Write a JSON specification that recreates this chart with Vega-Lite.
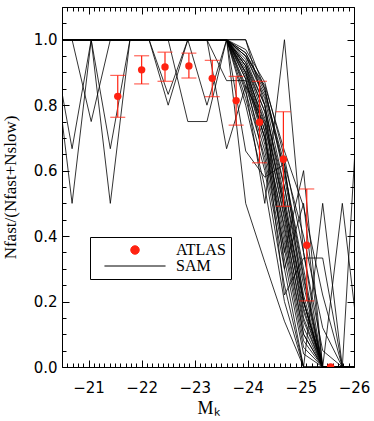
{
"$schema": "https://vega.github.io/schema/vega-lite/v6.json",
"width": 292, "height": 360,
"autosize": "none",
"padding": {"left": 62, "top": 7, "right": 20, "bottom": 54},
"background": "white",
"config": {"view": {"stroke": "black", "strokeWidth": 1}, "axis": {"grid": false, "domain": false, "tickColor": "black", "tickWidth": 1, "labelColor": "black", "titleColor": "black"}},
"datasets": {
"atlas": [
{"mk": -21.55, "f": 0.827, "lo": 0.763, "hi": 0.891},
{"mk": -22.00, "f": 0.908, "lo": 0.865, "hi": 0.951},
{"mk": -22.44, "f": 0.917, "lo": 0.873, "hi": 0.962},
{"mk": -22.89, "f": 0.920, "lo": 0.883, "hi": 0.959},
{"mk": -23.33, "f": 0.882, "lo": 0.826, "hi": 0.937},
{"mk": -23.78, "f": 0.814, "lo": 0.739, "hi": 0.888},
{"mk": -24.22, "f": 0.748, "lo": 0.624, "hi": 0.873},
{"mk": -24.67, "f": 0.635, "lo": 0.491, "hi": 0.780},
{"mk": -25.11, "f": 0.372, "lo": 0.202, "hi": 0.544},
{"mk": -25.56, "f": 0.0, "lo": null, "hi": null}
],
"sam": [
{"l":1,"x":-20.32,"f":1},{"l":1,"x":-20.69,"f":0.5},{"l":1,"x":-21.05,"f":1},{"l":1,"x":-21.41,"f":0.5},{"l":1,"x":-21.78,"f":1},{"l":1,"x":-23.60,"f":1},{"l":1,"x":-23.96,"f":0.92},{"l":1,"x":-24.32,"f":0.78},{"l":1,"x":-24.69,"f":0.48},{"l":1,"x":-25.05,"f":0.15},{"l":1,"x":-25.41,"f":0},{"l":1,"x":-26.14,"f":0},
{"l":2,"x":-20.32,"f":1},{"l":2,"x":-20.69,"f":0.667},{"l":2,"x":-21.05,"f":1},{"l":2,"x":-21.41,"f":0.667},{"l":2,"x":-21.78,"f":1},{"l":2,"x":-23.60,"f":1},{"l":2,"x":-23.96,"f":0.9},{"l":2,"x":-24.32,"f":0.72},{"l":2,"x":-24.69,"f":0.42},{"l":2,"x":-25.05,"f":0.1},{"l":2,"x":-25.41,"f":0},{"l":2,"x":-26.14,"f":0},
{"l":3,"x":-20.32,"f":1},{"l":3,"x":-20.69,"f":1},{"l":3,"x":-21.05,"f":0.75},{"l":3,"x":-21.41,"f":1},{"l":3,"x":-23.60,"f":1},{"l":3,"x":-23.96,"f":0.95},{"l":3,"x":-24.32,"f":0.82},{"l":3,"x":-24.69,"f":0.55},{"l":3,"x":-25.05,"f":0.22},{"l":3,"x":-25.41,"f":0},{"l":3,"x":-26.14,"f":0},
{"l":4,"x":-20.32,"f":1},{"l":4,"x":-22.14,"f":1},{"l":4,"x":-22.50,"f":0.833},{"l":4,"x":-22.87,"f":1},{"l":4,"x":-23.60,"f":1},{"l":4,"x":-23.96,"f":0.93},{"l":4,"x":-24.32,"f":0.8},{"l":4,"x":-24.69,"f":0.52},{"l":4,"x":-25.05,"f":0.2},{"l":4,"x":-25.41,"f":0},{"l":4,"x":-26.14,"f":0},
{"l":5,"x":-20.32,"f":1},{"l":5,"x":-22.14,"f":1},{"l":5,"x":-22.50,"f":0.8},{"l":5,"x":-22.87,"f":1},{"l":5,"x":-23.23,"f":0.8},{"l":5,"x":-23.60,"f":1},{"l":5,"x":-23.96,"f":0.88},{"l":5,"x":-24.32,"f":0.68},{"l":5,"x":-24.69,"f":0.38},{"l":5,"x":-25.05,"f":0.08},{"l":5,"x":-25.41,"f":0},{"l":5,"x":-26.14,"f":0},
{"l":6,"x":-20.32,"f":1},{"l":6,"x":-22.50,"f":1},{"l":6,"x":-22.87,"f":0.75},{"l":6,"x":-23.23,"f":0.75},{"l":6,"x":-23.60,"f":1},{"l":6,"x":-23.96,"f":0.96},{"l":6,"x":-24.32,"f":0.85},{"l":6,"x":-24.69,"f":0.6},{"l":6,"x":-25.05,"f":0.28},{"l":6,"x":-25.41,"f":0},{"l":6,"x":-26.14,"f":0},
{"l":7,"x":-20.32,"f":1},{"l":7,"x":-23.23,"f":1},{"l":7,"x":-23.60,"f":0.667},{"l":7,"x":-23.96,"f":0.86},{"l":7,"x":-24.32,"f":0.74},{"l":7,"x":-24.69,"f":0.45},{"l":7,"x":-25.05,"f":0.12},{"l":7,"x":-25.41,"f":0},{"l":7,"x":-26.14,"f":0},
{"l":8,"x":-20.32,"f":1},{"l":8,"x":-23.23,"f":1},{"l":8,"x":-23.60,"f":0.875},{"l":8,"x":-23.96,"f":0.875},{"l":8,"x":-24.32,"f":0.7},{"l":8,"x":-24.69,"f":0.4},{"l":8,"x":-25.05,"f":0.1},{"l":8,"x":-25.41,"f":0},{"l":8,"x":-26.14,"f":0},
{"l":9,"x":-20.32,"f":1},{"l":9,"x":-23.60,"f":1},{"l":9,"x":-23.96,"f":0.5},{"l":9,"x":-24.32,"f":0.32},{"l":9,"x":-24.69,"f":0.14},{"l":9,"x":-25.05,"f":0},{"l":9,"x":-26.14,"f":0},
{"l":10,"x":-20.32,"f":1},{"l":10,"x":-23.60,"f":1},{"l":10,"x":-23.96,"f":0.85},{"l":10,"x":-24.32,"f":0.5},{"l":10,"x":-24.69,"f":1},{"l":10,"x":-25.05,"f":0.35},{"l":10,"x":-25.41,"f":0},{"l":10,"x":-26.14,"f":0},
{"l":11,"x":-20.32,"f":1},{"l":11,"x":-23.60,"f":1},{"l":11,"x":-23.96,"f":0.92},{"l":11,"x":-24.32,"f":0.72},{"l":11,"x":-24.69,"f":0.22},{"l":11,"x":-25.05,"f":0.333},{"l":11,"x":-25.41,"f":0.333},{"l":11,"x":-25.78,"f":0},{"l":11,"x":-26.14,"f":0},
{"l":12,"x":-20.32,"f":1},{"l":12,"x":-23.60,"f":1},{"l":12,"x":-23.96,"f":0.9},{"l":12,"x":-24.32,"f":0.7},{"l":12,"x":-24.69,"f":0.35},{"l":12,"x":-25.05,"f":0.6},{"l":12,"x":-25.41,"f":0},{"l":12,"x":-25.78,"f":0.5},{"l":12,"x":-26.14,"f":0},
{"l":13,"x":-20.32,"f":1},{"l":13,"x":-23.60,"f":1},{"l":13,"x":-23.96,"f":0.94},{"l":13,"x":-24.32,"f":0.8},{"l":13,"x":-24.69,"f":0.3},{"l":13,"x":-25.05,"f":0},{"l":13,"x":-25.41,"f":0.5},{"l":13,"x":-25.78,"f":0},{"l":13,"x":-26.14,"f":1},
{"l":14,"x":-20.32,"f":1},{"l":14,"x":-23.60,"f":1},{"l":14,"x":-23.96,"f":0.88},{"l":14,"x":-24.32,"f":0.62},{"l":14,"x":-24.69,"f":0.3},{"l":14,"x":-25.05,"f":0.5},{"l":14,"x":-25.41,"f":0},{"l":14,"x":-26.14,"f":0},
{"l":15,"x":-20.32,"f":1},{"l":15,"x":-23.60,"f":1},{"l":15,"x":-23.96,"f":0.82},{"l":15,"x":-24.32,"f":0.6},{"l":15,"x":-24.69,"f":0.25},{"l":15,"x":-25.05,"f":0},{"l":15,"x":-26.14,"f":0},
{"l":16,"x":-20.32,"f":1},{"l":16,"x":-23.60,"f":1},{"l":16,"x":-23.96,"f":0.8},{"l":16,"x":-24.32,"f":0.55},{"l":16,"x":-24.69,"f":0.2},{"l":16,"x":-25.05,"f":0},{"l":16,"x":-26.14,"f":0},
{"l":17,"x":-20.32,"f":1},{"l":17,"x":-23.60,"f":1},{"l":17,"x":-23.96,"f":0.9},{"l":17,"x":-24.32,"f":0.75},{"l":17,"x":-24.69,"f":0.5},{"l":17,"x":-25.05,"f":0.2},{"l":17,"x":-25.41,"f":0},{"l":17,"x":-26.14,"f":0},
{"l":18,"x":-20.32,"f":1},{"l":18,"x":-23.60,"f":1},{"l":18,"x":-23.96,"f":0.93},{"l":18,"x":-24.32,"f":0.78},{"l":18,"x":-24.69,"f":0.55},{"l":18,"x":-25.05,"f":0.25},{"l":18,"x":-25.41,"f":0},{"l":18,"x":-26.14,"f":0},
{"l":19,"x":-20.32,"f":1},{"l":19,"x":-23.60,"f":1},{"l":19,"x":-23.96,"f":0.95},{"l":19,"x":-24.32,"f":0.83},{"l":19,"x":-24.69,"f":0.6},{"l":19,"x":-25.05,"f":0.3},{"l":19,"x":-25.41,"f":0},{"l":19,"x":-26.14,"f":0},
{"l":20,"x":-20.32,"f":1},{"l":20,"x":-23.60,"f":1},{"l":20,"x":-23.96,"f":0.97},{"l":20,"x":-24.32,"f":0.87},{"l":20,"x":-24.69,"f":0.64},{"l":20,"x":-25.05,"f":0.35},{"l":20,"x":-25.41,"f":0.05},{"l":20,"x":-25.78,"f":0},{"l":20,"x":-26.14,"f":0},
{"l":21,"x":-20.32,"f":1},{"l":21,"x":-23.96,"f":1},{"l":21,"x":-24.32,"f":0.8},{"l":21,"x":-24.69,"f":0.5},{"l":21,"x":-25.05,"f":0.2},{"l":21,"x":-25.41,"f":0},{"l":21,"x":-26.14,"f":0},
{"l":22,"x":-20.32,"f":1},{"l":22,"x":-23.96,"f":1},{"l":22,"x":-24.32,"f":0.85},{"l":22,"x":-24.69,"f":0.58},{"l":22,"x":-25.05,"f":0.27},{"l":22,"x":-25.41,"f":0},{"l":22,"x":-26.14,"f":0},
{"l":23,"x":-20.32,"f":1},{"l":23,"x":-23.60,"f":1},{"l":23,"x":-23.96,"f":0.86},{"l":23,"x":-24.32,"f":0.66},{"l":23,"x":-24.69,"f":0.36},{"l":23,"x":-25.05,"f":0.06},{"l":23,"x":-25.41,"f":0},{"l":23,"x":-26.14,"f":0},
{"l":24,"x":-20.32,"f":1},{"l":24,"x":-23.60,"f":1},{"l":24,"x":-23.96,"f":0.91},{"l":24,"x":-24.32,"f":0.74},{"l":24,"x":-24.69,"f":0.46},{"l":24,"x":-25.05,"f":0.17},{"l":24,"x":-25.41,"f":0},{"l":24,"x":-26.14,"f":0},
{"l":25,"x":-20.32,"f":1},{"l":25,"x":-23.60,"f":1},{"l":25,"x":-23.96,"f":0.89},{"l":25,"x":-24.32,"f":0.7},{"l":25,"x":-24.69,"f":0.43},{"l":25,"x":-25.05,"f":0.14},{"l":25,"x":-25.41,"f":0},{"l":25,"x":-26.14,"f":0},
{"l":26,"x":-20.32,"f":1},{"l":26,"x":-23.60,"f":1},{"l":26,"x":-23.96,"f":0.96},{"l":26,"x":-24.32,"f":0.84},{"l":26,"x":-24.69,"f":0.62},{"l":26,"x":-25.05,"f":0.4},{"l":26,"x":-25.41,"f":0.12},{"l":26,"x":-25.78,"f":0},{"l":26,"x":-26.14,"f":0},
{"l":27,"x":-20.32,"f":1},{"l":27,"x":-23.60,"f":1},{"l":27,"x":-23.96,"f":0.84},{"l":27,"x":-24.32,"f":0.64},{"l":27,"x":-24.69,"f":0.33},{"l":27,"x":-25.05,"f":0.04},{"l":27,"x":-25.41,"f":0},{"l":27,"x":-26.14,"f":0},
{"l":28,"x":-20.32,"f":1},{"l":28,"x":-23.60,"f":1},{"l":28,"x":-23.96,"f":0.95},{"l":28,"x":-24.32,"f":0.86},{"l":28,"x":-24.69,"f":0.66},{"l":28,"x":-25.05,"f":0.49},{"l":28,"x":-25.41,"f":0.22},{"l":28,"x":-25.78,"f":0},{"l":28,"x":-26.14,"f":0},
{"l":29,"x":-20.32,"f":1},{"l":29,"x":-23.60,"f":1},{"l":29,"x":-23.96,"f":0.66},{"l":29,"x":-24.32,"f":0.58},{"l":29,"x":-24.69,"f":0.62},{"l":29,"x":-25.05,"f":0.2},{"l":29,"x":-25.41,"f":0},{"l":29,"x":-26.14,"f":0},
{"l":30,"x":-20.32,"f":1},{"l":30,"x":-23.60,"f":1},{"l":30,"x":-23.96,"f":0.92},{"l":30,"x":-24.32,"f":0.76},{"l":30,"x":-24.69,"f":0.48},{"l":30,"x":-25.05,"f":0.18},{"l":30,"x":-25.41,"f":0},{"l":30,"x":-26.14,"f":0}
]
},
"resolve": {"axis": {"x": "independent", "y": "independent"}},
"layer": [
{
"data": {"name": "sam"},
"mark": {"type": "line", "strokeWidth": 0.8, "clip": true},
"encoding": {
"x": {"field": "x", "type": "quantitative", "scale": {"domain": [-26, -20.5], "reverse": true, "nice": false, "zero": false},
 "axis": {"orient": "bottom", "values": [-21, -22, -23, -24, -25, -26], "labels": false, "ticks": true, "tickSize": -7, "title": null}},
"y": {"field": "f", "type": "quantitative", "scale": {"domain": [0, 1.1], "nice": false, "zero": false},
 "axis": {"orient": "left", "values": [0, 0.2, 0.4, 0.6, 0.8, 1.0], "labels": false, "ticks": true, "tickSize": -7, "title": null}},
"detail": {"field": "l", "type": "nominal"},
"color": {"datum": "SAM", "type": "nominal",
 "scale": {"domain": ["ATLAS", "SAM"], "range": ["#ff2211", "black"]},
 "legend": {"title": null, "orient": "none", "legendX": 28, "legendY": 230, "strokeColor": "black", "fillColor": "white", "padding": 5,
  "labelFont": "Liberation Serif", "labelFontSize": 16, "labelColor": "black", "symbolSize": 72, "symbolOffset": 32, "labelOffset": 33, "rowPadding": 0, "symbolStrokeWidth": 1,
  "encode": {"symbols": {"update": {
   "shape": {"signal": "datum.value === 'SAM' ? 'M-7.2,0H7.2' : 'circle'"},
   "fill": {"signal": "datum.value === 'ATLAS' ? '#ff2211' : 'transparent'"},
   "stroke": {"signal": "datum.value === 'SAM' ? 'black' : 'transparent'"}}}}}}
}
},
{
"data": {"name": "atlas"},
"mark": {"type": "rule", "color": "#ff2211", "strokeWidth": 1.2},
"encoding": {
"x": {"field": "mk", "type": "quantitative", "scale": {"domain": [-26, -20.5], "reverse": true, "nice": false, "zero": false},
 "axis": {"orient": "bottom", "values": [-20.5,-20.6,-20.7,-20.8,-20.9,-21.1,-21.2,-21.3,-21.4,-21.5,-21.6,-21.7,-21.8,-21.9,-22.1,-22.2,-22.3,-22.4,-22.5,-22.6,-22.7,-22.8,-22.9,-23.1,-23.2,-23.3,-23.4,-23.5,-23.6,-23.7,-23.8,-23.9,-24.1,-24.2,-24.3,-24.4,-24.5,-24.6,-24.7,-24.8,-24.9,-25.1,-25.2,-25.3,-25.4,-25.5,-25.6,-25.7,-25.8,-25.9], "labels": false, "ticks": true, "tickSize": -4, "title": null}},
"y": {"field": "lo", "type": "quantitative", "scale": {"domain": [0, 1.1], "nice": false, "zero": false},
 "axis": {"orient": "left", "values": [0.05,0.1,0.15,0.25,0.3,0.35,0.45,0.5,0.55,0.65,0.7,0.75,0.85,0.9,0.95,1.05,1.1], "labels": false, "ticks": true, "tickSize": -4, "title": null}},
"y2": {"field": "hi"}
}
},
{
"data": {"name": "atlas"},
"mark": {"type": "tick", "orient": "horizontal", "color": "#ff2211", "size": 15, "thickness": 1.2},
"encoding": {
"x": {"field": "mk", "type": "quantitative", "scale": {"domain": [-26, -20.5], "reverse": true, "nice": false, "zero": false},
 "axis": {"orient": "top", "values": [-21, -22, -23, -24, -25, -26], "labels": false, "ticks": true, "tickSize": -7, "title": null}},
"y": {"field": "lo", "type": "quantitative", "scale": {"domain": [0, 1.1], "nice": false, "zero": false},
 "axis": {"orient": "right", "values": [0, 0.2, 0.4, 0.6, 0.8, 1.0], "labels": false, "ticks": true, "tickSize": -7, "title": null}}
}
},
{
"data": {"name": "atlas"},
"mark": {"type": "tick", "orient": "horizontal", "color": "#ff2211", "size": 15, "thickness": 1.2},
"encoding": {
"x": {"field": "mk", "type": "quantitative", "scale": {"domain": [-26, -20.5], "reverse": true, "nice": false, "zero": false},
 "axis": {"orient": "top", "values": [-20.5,-20.6,-20.7,-20.8,-20.9,-21.1,-21.2,-21.3,-21.4,-21.5,-21.6,-21.7,-21.8,-21.9,-22.1,-22.2,-22.3,-22.4,-22.5,-22.6,-22.7,-22.8,-22.9,-23.1,-23.2,-23.3,-23.4,-23.5,-23.6,-23.7,-23.8,-23.9,-24.1,-24.2,-24.3,-24.4,-24.5,-24.6,-24.7,-24.8,-24.9,-25.1,-25.2,-25.3,-25.4,-25.5,-25.6,-25.7,-25.8,-25.9], "labels": false, "ticks": true, "tickSize": -4, "title": null}},
"y": {"field": "hi", "type": "quantitative", "scale": {"domain": [0, 1.1], "nice": false, "zero": false},
 "axis": {"orient": "right", "values": [0.05,0.1,0.15,0.25,0.3,0.35,0.45,0.5,0.55,0.65,0.7,0.75,0.85,0.9,0.95,1.05,1.1], "labels": false, "ticks": true, "tickSize": -4, "title": null}}
}
},
{
"data": {"name": "atlas"},
"mark": {"type": "point", "shape": "circle", "filled": true, "size": 55, "opacity": 1, "clip": true},
"encoding": {
"x": {"field": "mk", "type": "quantitative", "scale": {"domain": [-26, -20.5], "reverse": true, "nice": false, "zero": false},
 "axis": {"orient": "bottom", "values": [-21, -22, -23, -24, -25, -26], "ticks": false, "labelFlush": false, "labelOverlap": false, "labelPadding": 13, "labelFont": "DejaVu Sans", "labelFontSize": 15,
  "title": "Mₖ", "titleFont": "Liberation Serif", "titleFontSize": 18, "titleFontWeight": "normal", "titlePadding": 4}},
"y": {"field": "f", "type": "quantitative", "scale": {"domain": [0, 1.1], "nice": false, "zero": false},
 "axis": {"orient": "left", "values": [0, 0.2, 0.4, 0.6, 0.8, 1.0], "format": ".1f", "ticks": false, "labelPadding": 5, "labelFont": "DejaVu Sans", "labelFontSize": 15,
  "title": "Nfast/(Nfast+Nslow)", "titleFont": "Liberation Serif", "titleFontSize": 17, "titleFontWeight": "normal", "titlePadding": 14}},
"color": {"datum": "ATLAS", "type": "nominal"}
}
}
]
}
